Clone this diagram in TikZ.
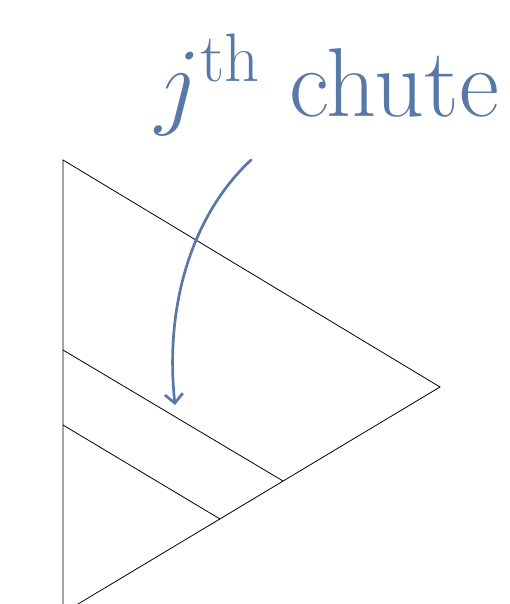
\RequirePackage{fix-cm}
\documentclass[tikz,border=0pt]{standalone}
\usepackage{amsmath}
\usepackage{xcolor}
\usetikzlibrary{arrows.meta}
\definecolor{chuteblue}{RGB}{88,120,168}

\begin{document}
\begin{tikzpicture}[x=1pt, y=-1pt,
    edge/.style={line width=0.8pt},
    arrow/.style={-{Straight Barb[length=9pt,width=18pt]}, line width=2.7pt, chuteblue, line cap=round}
]
\useasboundingbox (0,0) rectangle (509,604);
\clip (0,0) rectangle (509,604);
% triangle
\coordinate (top) at (63,160);
\coordinate (tip) at (440,387);
\coordinate (bottom) at (63,613);
\draw[edge] (top) -- (tip) -- (bottom) -- cycle;
% chute walls
\coordinate (wallA) at (63,350);
\coordinate (wallAend) at (283,481);
\coordinate (wallB) at (63,425);
\coordinate (wallBend) at (220,519);
\draw[edge] (wallA) -- (wallAend);
\draw[edge] (wallB) -- (wallBend);
% label and arrow
\node[chuteblue, font=\fontsize{98}{100}\selectfont, anchor=base] (label) at (327,117) {$j^{\text{th}}$ chute};
\coordinate (start) at (251,160);
\coordinate (end) at (175,405);
\draw[arrow] (start) .. controls (195,212) and (164,300) .. (end);
\end{tikzpicture}
\end{document}
